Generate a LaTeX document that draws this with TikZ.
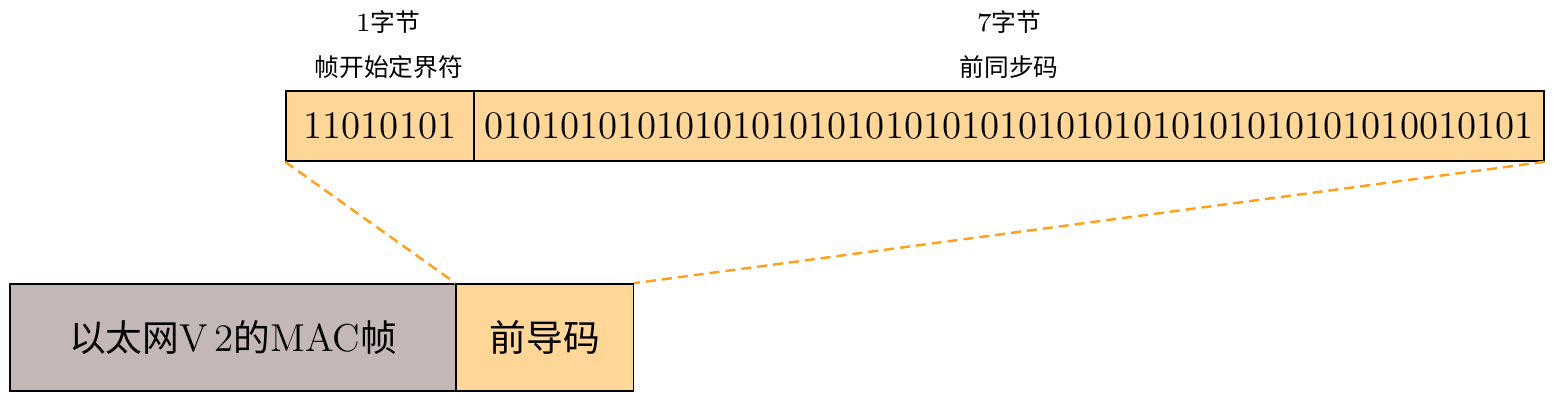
\documentclass[tikz,border=0pt]{standalone}
\usepackage{fontspec}
\usetikzlibrary{positioning}
\newfontfamily\cjk[Scale=0.943]{Noto Sans CJK SC}
\definecolor{cField}{HTML}{FED698}
\definecolor{cFrame}{HTML}{C3B8B5}
\definecolor{cZoom}{HTML}{FF9F1A}

\begin{document}
\begin{tikzpicture}[
  x=0.01cm, y=-0.01cm,
  field/.style={draw=black, line width=0.45pt, fill=cField, inner sep=0pt,
                minimum height=0.70cm, font=\fontsize{11.07}{13}\selectfont},
  frame/.style={field, fill=cFrame, minimum height=1.07cm},
  tag/.style={font=\fontsize{7.45}{9}\selectfont, inner sep=0pt},
  zoomline/.style={draw=cZoom, line width=0.7pt, dash pattern=on 0.1cm off 0.06cm},
]
\useasboundingbox (0,0) rectangle (1559,404);

% ---- preamble fields ---------------------------------------------------
\node[field, minimum width=1.88cm] (sfd) at (380,126) {11010101};
\node[field, minimum width=10.69cm, right=-0.4pt of sfd] (sync)
  {0101010101010101010101010101010101010101010101010010101};

% ---- field captions ----------------------------------------------------
\node[tag] (sfdsize)  at (388,22)  {1{\cjk 字节}};
\node[tag] (sfdname)  at (389,67)  {{\cjk 帧开始定界符}};
\node[tag] (syncsize) at (1009,22) {7{\cjk 字节}};
\node[tag] (syncname) at (1009,67) {{\cjk 前同步码}};

% ---- MAC frame ---------------------------------------------------------
\node[frame, minimum width=4.46cm] (mac) at (233,337.5)
  {{\cjk 以太网}V\,2{\cjk 的}MAC{\cjk 帧}};
\node[field, minimum width=1.77cm, minimum height=1.07cm, right=-0.4pt of mac] (pre)
  {{\cjk 前导码}};

% ---- zoom lines --------------------------------------------------------
\draw[zoomline] (sfd.south west) -- (pre.north west);
\draw[zoomline] (sync.south east) -- (pre.north east);

\end{tikzpicture}
\end{document}
